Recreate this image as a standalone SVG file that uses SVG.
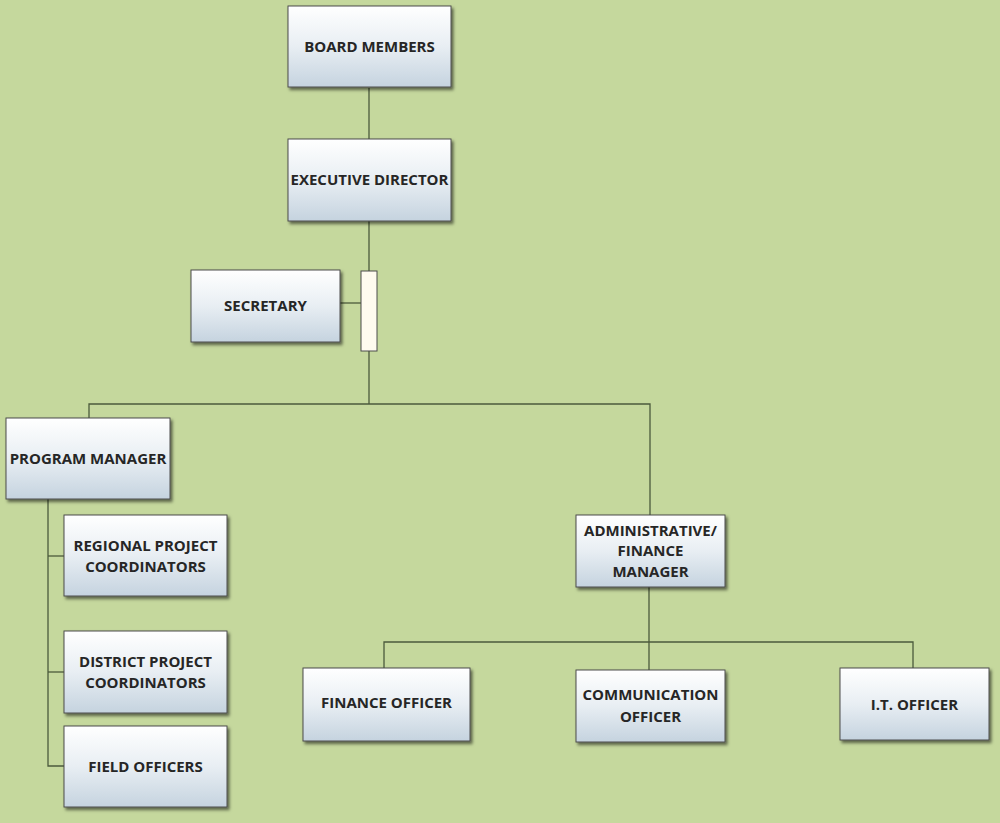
<svg xmlns="http://www.w3.org/2000/svg" width="1000" height="823" viewBox="0 0 1000 823">
<style>
.box{fill:url(#g);stroke:#4d4d4d;stroke-width:1;filter:url(#sh)}
.t{font-family:"Open Sans","Liberation Sans",sans-serif;font-weight:bold;font-size:15px;fill:#262626;text-anchor:middle;dominant-baseline:central}
.c{fill:none;stroke:#4b5a3c;stroke-width:1.3}
</style>
<defs>
<linearGradient id="g" x1="0" y1="0" x2="0" y2="1">
<stop offset="0" stop-color="#ffffff"/>
<stop offset="0.5" stop-color="#e8eef3"/>
<stop offset="1" stop-color="#c5d3df"/>
</linearGradient>
<filter id="sh" x="-10%" y="-10%" width="125%" height="130%">
<feDropShadow dx="2" dy="2.5" stdDeviation="1.5" flood-color="#000" flood-opacity="0.55"/>
</filter>
</defs>
<rect width="1000" height="823" fill="#c5d89d"/>
<g id="connectors">
<line class="c" x1="369" y1="88" x2="369" y2="139"/>
<line class="c" x1="369" y1="221" x2="369" y2="404"/>
<line class="c" x1="340" y1="303" x2="361" y2="303"/>
<polyline class="c" points="89,418 89,404 650,404 650,515"/>
<polyline class="c" points="48,499 48,766 64,766"/>
<line class="c" x1="48" y1="556" x2="64" y2="556"/>
<line class="c" x1="48" y1="672" x2="64" y2="672"/>
<line class="c" x1="649" y1="587" x2="649" y2="670"/>
<polyline class="c" points="384,668 384,642 913,642 913,668"/>
</g>
<g id="junction">
<rect x="361" y="271" width="16" height="80" fill="#fffbef" stroke="#4d4d4d" stroke-width="1"/>
</g>
<g id="board"><rect class="box" x="288" y="6" width="163" height="81"/><text class="t" x="369.5" y="46">BOARD MEMBERS</text></g>
<g id="exec"><rect class="box" x="288" y="139" width="163" height="82"/><text class="t" x="369.5" y="179">EXECUTIVE DIRECTOR</text></g>
<g id="secretary"><rect class="box" x="191" y="270" width="149" height="72"/><text class="t" x="265.5" y="305">SECRETARY</text></g>
<g id="program"><rect class="box" x="6" y="418" width="164" height="81"/><text class="t" x="88" y="458">PROGRAM MANAGER</text></g>
<g id="regional"><rect class="box" x="64" y="515" width="163" height="81"/><text class="t" x="145.5" y="545">REGIONAL PROJECT</text><text class="t" x="145.5" y="566">COORDINATORS</text></g>
<g id="district"><rect class="box" x="64" y="631" width="163" height="82"/><text class="t" x="145.5" y="661">DISTRICT PROJECT</text><text class="t" x="145.5" y="682">COORDINATORS</text></g>
<g id="field"><rect class="box" x="64" y="726" width="163" height="81"/><text class="t" x="145.5" y="766">FIELD OFFICERS</text></g>
<g id="admin"><rect class="box" x="576" y="515" width="149" height="72"/><text class="t" x="650.5" y="530">ADMINISTRATIVE/</text><text class="t" x="650.5" y="550">FINANCE</text><text class="t" x="650.5" y="571">MANAGER</text></g>
<g id="finance"><rect class="box" x="303" y="668" width="167" height="73"/><text class="t" x="386.5" y="702">FINANCE OFFICER</text></g>
<g id="comm"><rect class="box" x="576" y="670" width="149" height="72"/><text class="t" x="650.5" y="694">COMMUNICATION</text><text class="t" x="650.5" y="716">OFFICER</text></g>
<g id="it"><rect class="box" x="840" y="668" width="149" height="72"/><text class="t" x="914.5" y="704">I.T. OFFICER</text></g>
</svg>
